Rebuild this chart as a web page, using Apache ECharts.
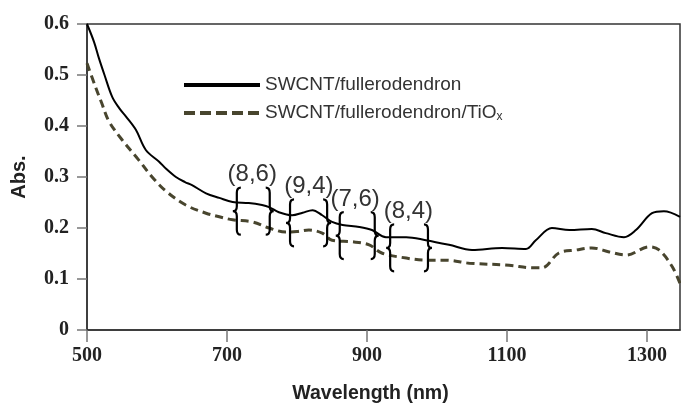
<!DOCTYPE html>
<html>
<head>
<meta charset="utf-8">
<script src="https://cdn.jsdelivr.net/npm/echarts@6/dist/echarts.min.js"></script>
<style>html,body{margin:0;padding:0;background:#fff}#c{width:681px;height:409px}</style>
</head>
<body>
<div id="c"></div>
<script>
// ---- data ----
const seriesNames = ['SWCNT/fullerodendron', 'SWCNT/fullerodendron/TiOx'];
const xTicks = [500, 700, 900, 1100, 1300];
const yTicks = [0, 0.1, 0.2, 0.3, 0.4, 0.5, 0.6];
const solidData = [
  [500,0.600],[510,0.565],[517,0.533],[525,0.500],[536,0.457],[546,0.435],[556,0.418],
  [570,0.392],[584,0.353],[603,0.330],[613,0.316],[627,0.300],[640,0.290],[650,0.284],
  [670,0.268],[689,0.259],[708,0.251],[731,0.249],[750,0.245],[760,0.241],[774,0.231],
  [793,0.225],[808,0.230],[822,0.235],[836,0.225],[850,0.212],[865,0.206],[889,0.202],
  [907,0.196],[927,0.182],[956,0.182],[984,0.176],[1017,0.167],[1050,0.157],[1093,0.161],
  [1127,0.159],[1141,0.176],[1164,0.200],[1189,0.196],[1221,0.198],[1241,0.190],[1267,0.182],
  [1284,0.196],[1307,0.229],[1324,0.233],[1347,0.222]
];
const dashedData = [
  [500,0.523],[512,0.477],[521,0.445],[531,0.410],[550,0.373],[574,0.333],[593,0.300],
  [613,0.272],[641,0.245],[670,0.229],[689,0.222],[708,0.216],[736,0.212],[760,0.200],
  [784,0.192],[800,0.193],[817,0.196],[836,0.190],[850,0.176],[879,0.173],[903,0.167],
  [921,0.151],[956,0.141],[984,0.137],[1013,0.137],[1046,0.131],[1103,0.127],[1136,0.122],
  [1150,0.122],[1174,0.151],[1199,0.157],[1221,0.161],[1246,0.153],[1270,0.147],[1303,0.163],
  [1317,0.157],[1336,0.124],[1348,0.088]
];
// chirality annotations: label [wavelength, abs], braces [left wl, right wl, center abs, half height]
const chiralityLabels = ['(8,6)', '(9,4)', '(7,6)', '(8,4)'];
const labelPos = [[736,0.305],[817,0.281],[883,0.256],[959,0.232]];
const braceLeft = [714, 790, 861, 933];
const braceRight = [761, 843, 911, 987];
const braceCenter = [0.233, 0.210, 0.185, 0.161];
const braceHalf = 0.046;

const braceItems = [];
braceLeft.forEach((v,i)=>{
  braceItems.push([v, braceCenter[i], braceHalf, 1]);
  braceItems.push([braceRight[i], braceCenter[i], braceHalf, -1]);
});
const labelItems = labelPos.map((p,i)=>[p[0], p[1], i]);

const chart = echarts.init(document.getElementById('c'), null, {renderer:'canvas'});
const tickFont = {fontFamily:'Liberation Serif', fontWeight:'bold', fontSize:20, color:'#222'};
const hiddenSym = {opacity:0, borderWidth:0};
chart.setOption({
  animation:false,
  grid:{left:87, right:1, top:24, bottom:78, show:true, borderColor:'#333', borderWidth:1.5, backgroundColor:'transparent'},
  legend:{
    orient:'vertical', left:177, top:70, itemWidth:76, itemHeight:14, itemGap:8,
    textStyle:{fontFamily:'Liberation Sans', fontSize:19, color:'#333', lineHeight:20,
      rich:{sub:{fontFamily:'Liberation Sans', fontSize:12, color:'#333', verticalAlign:'bottom', padding:[8,0,0,0]}}},
    formatter: n => n.endsWith('TiOx') ? n.slice(0,-1) + '{sub|x}' : n,
    data:[
      {name:seriesNames[0], itemStyle:hiddenSym, lineStyle:{width:4, color:'#000'}},
      {name:seriesNames[1], itemStyle:hiddenSym, lineStyle:{width:4, color:'#48452e', type:[11,5]}}
    ]
  },
  xAxis:{
    type:'value', min:500, max:1347,
    name:'Wavelength (nm)', nameLocation:'middle', nameGap:54,
    nameTextStyle:{fontFamily:'Liberation Sans', fontWeight:'bold', fontSize:19.5, color:'#222', padding:[0,26,0,0]},
    axisLine:{lineStyle:{color:'#333', width:1.5}},
    axisTick:{show:true, length:12, lineStyle:{color:'#777', width:1.5}, customValues:xTicks},
    axisLabel:{...tickFont, margin:16, customValues:xTicks, formatter:v=>String(v)},
    splitLine:{show:false}
  },
  yAxis:{
    type:'value', min:0, max:0.6, interval:0.1,
    name:'Abs.', nameLocation:'middle', nameGap:58, nameRotate:90,
    nameTextStyle:{fontFamily:'Liberation Sans', fontWeight:'bold', fontSize:20, color:'#222'},
    axisLine:{show:true, lineStyle:{color:'#333', width:1.5}},
    axisTick:{show:true, length:10, lineStyle:{color:'#777', width:1.5}, customValues:yTicks},
    axisLabel:{...tickFont, margin:18, customValues:yTicks, formatter:v=>String(v)},
    splitLine:{show:false}
  },
  series:[
    {name:seriesNames[0], type:'line', data:solidData, symbol:'none', smooth:0.35,
     lineStyle:{color:'#000', width:2}, itemStyle:{color:'#000'}, z:3},
    {name:seriesNames[1], type:'line', data:dashedData, symbol:'none', smooth:0.35,
     lineStyle:{color:'#48452e', width:3, type:[8,5]}, itemStyle:{color:'#48452e'}, z:2},
    {type:'custom', data:braceItems, z:5, silent:true, clip:false,
     renderItem:(params, api)=>{
       const c = api.coord([api.value(0), api.value(1)]);
       const t = api.coord([api.value(0), api.value(1)+api.value(2)])[1];
       const b = api.coord([api.value(0), api.value(1)-api.value(2)])[1];
       const x = c[0], cy = c[1], s = api.value(3);
       const d = `M${x+4*s} ${t} Q${x} ${t} ${x} ${t+5} L${x} ${cy-5} Q${x} ${cy} ${x-4*s} ${cy} Q${x} ${cy} ${x} ${cy+5} L${x} ${b-5} Q${x} ${b} ${x+4*s} ${b}`;
       return {type:'path', shape:{pathData:d}, style:{fill:null, stroke:'#000', lineWidth:2.2}};
     }},
    {type:'custom', data:labelItems, z:6, silent:true, clip:false,
     renderItem:(params, api)=>{
       const c = api.coord([api.value(0), api.value(1)]);
       return {type:'text', x:c[0], y:c[1], style:{text:chiralityLabels[api.value(2)], fill:'#333',
         font:'24px "Liberation Sans"', align:'center', verticalAlign:'middle'}};
     }}
  ]
});
</script>
</body>
</html>
